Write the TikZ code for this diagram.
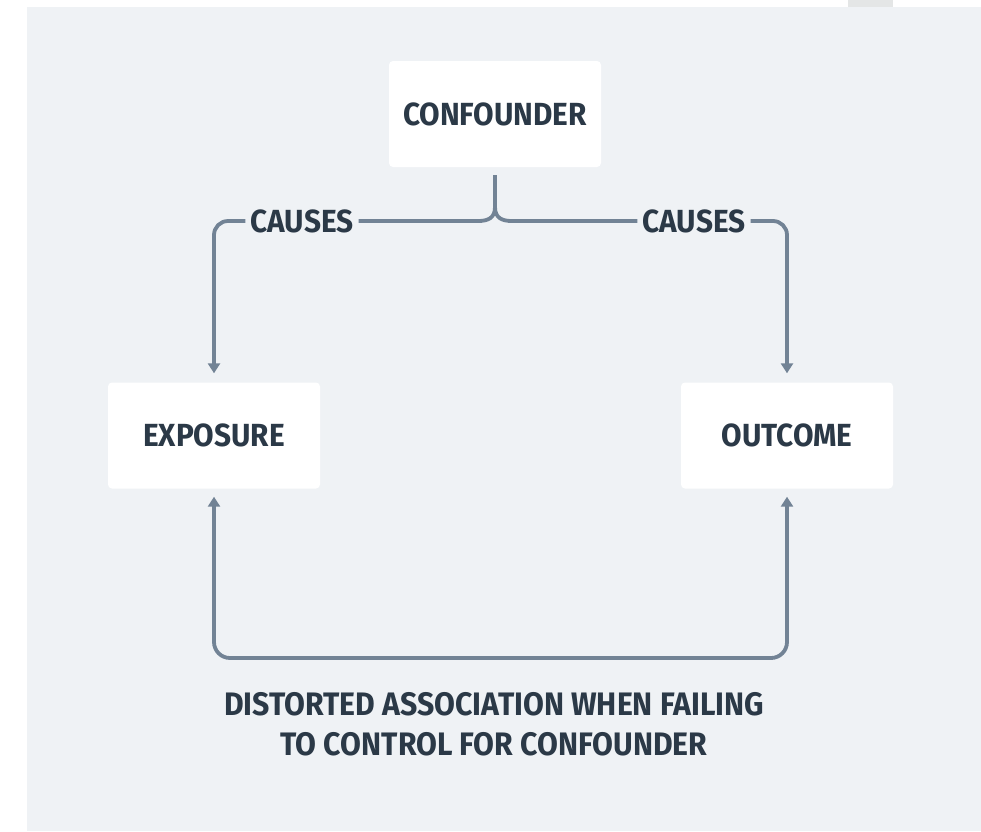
\documentclass[tikz,border=0pt]{standalone}
\usepackage{fontspec}
\setmainfont{Fira Sans}[BoldFont={* Bold}, FakeStretch=0.93]
\usetikzlibrary{arrows.meta,calc}
\definecolor{panel}{HTML}{EFF2F5}
\definecolor{linec}{HTML}{728395}
\definecolor{textc}{HTML}{2B3947}
\definecolor{tab}{HTML}{E4E6E6}
\tikzset{
  box/.style={fill=white, rounded corners=4pt, minimum width=212pt, minimum height=106pt, inner sep=0pt, text=textc, font=\fontsize{32}{36}\selectfont\bfseries},
  lbl/.style={text=textc, inner sep=0pt, font=\fontsize{32}{36}\selectfont\bfseries},
  conn/.style={draw=linec, line width=3.8pt},
  tip/.style={-{Triangle[width=12pt,length=10pt]}},
}
\begin{document}
\begin{tikzpicture}[x=1pt,y=-1pt]
\useasboundingbox (0,0) rectangle (981,831);
\fill[panel] (27,7) rectangle (981,831);
\fill[tab] (848,0) rectangle (893,7);
\node[box] (conf) at (495,114) {CONFOUNDER};
\node[box] (expo) at (214,435.5) {EXPOSURE};
\node[box] (outc) at (787,435.5) {OUTCOME};
\node[lbl, anchor=center] (cl) at (302,221) {CAUSES};
\node[lbl, anchor=center] (cr) at (694,221) {CAUSES};
\coordinate (bL) at (478,221);
\coordinate (bR) at (512,221);
\coordinate (bot) at (500,658);
\draw[conn, shorten <=8pt] (conf.south) -- (495,207) .. controls (495,218) and (488,221) .. (bL) -- ([xshift=5pt]cl.east);
\draw[conn] (495,207) .. controls (495,218) and (502,221) .. (bR) -- ([xshift=-5pt]cr.west);
\draw[conn, tip, rounded corners=14pt, shorten >=9pt] ([xshift=-5pt]cl.west) -| (expo.north);
\draw[conn, tip, rounded corners=14pt, shorten >=9pt] ([xshift=5pt]cr.east) -| (outc.north);
\draw[conn, {Triangle[width=12pt,length=10pt]}-{Triangle[width=12pt,length=10pt]}, rounded corners=16pt, shorten <=8pt, shorten >=8pt] (expo.south) |- (bot) -| (outc.south);
\node[text=textc, align=center, font=\fontsize{32.5}{40}\selectfont\bfseries] (cap) at (494,724) {DISTORTED ASSOCIATION WHEN FAILING\\TO CONTROL FOR CONFOUNDER};
\end{tikzpicture}
\end{document}
